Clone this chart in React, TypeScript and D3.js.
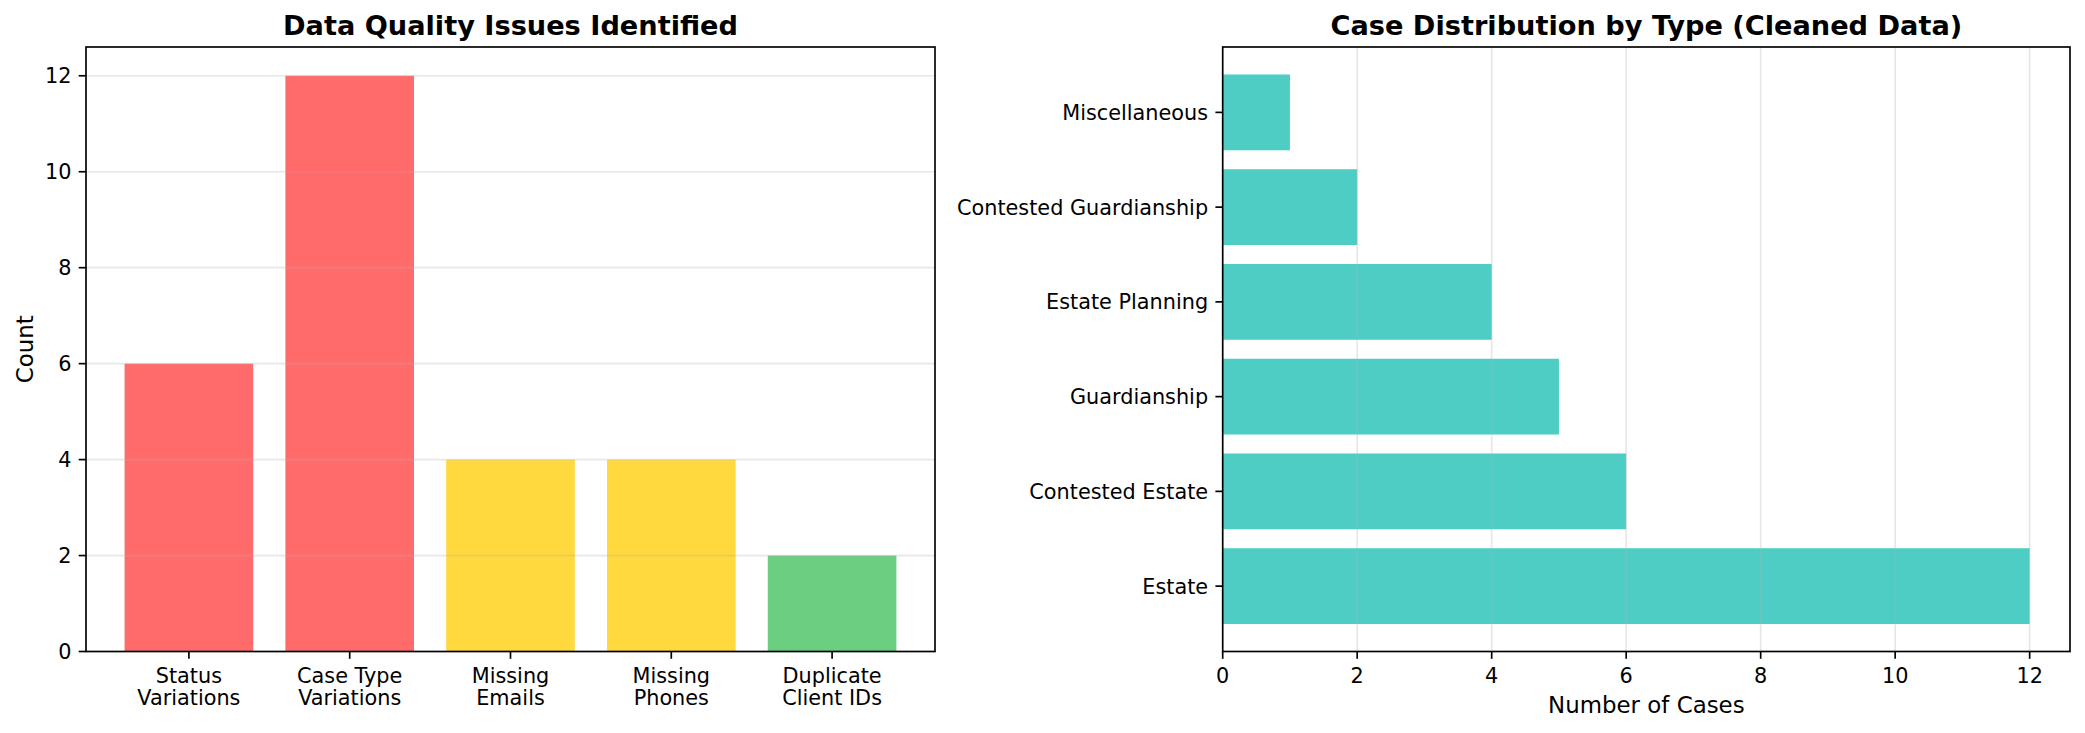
import * as React from "react";
import * as d3 from "d3";

// left panel: data quality issues
const issueLabels: string[][] = [
  ["Status", "Variations"],
  ["Case Type", "Variations"],
  ["Missing", "Emails"],
  ["Missing", "Phones"],
  ["Duplicate", "Client IDs"]
];
const issueCounts: number[] = [6, 12, 4, 4, 2];
const issueColors: string[] = ["#FF6B6B", "#FF6B6B", "#FFD93D", "#FFD93D", "#6BCF7F"];
const countTicks: number[] = [0, 2, 4, 6, 8, 10, 12];

// right panel: cases by type (bottom to top)
const caseTypes: string[] = [
  "Estate",
  "Contested Estate",
  "Guardianship",
  "Estate Planning",
  "Contested Guardianship",
  "Miscellaneous"
];
const caseCounts: number[] = [12, 6, 5, 4, 2, 1];
const caseTicks: number[] = [0, 2, 4, 6, 8, 10, 12];
const caseColor = "#4ECDC4";

const WIDTH = 2085;
const HEIGHT = 733;
const TOP = 47;
const BOTTOM = 651.5;
const FONT = "DejaVu Sans, sans-serif";
const TICK_FS = 20.8;
const LABEL_FS = 22.9;
const TITLE_FS = 27.2;
const LW = 1.67;
const TICK_LEN = 7.3;
const GRID = "#b0b0b0";

export default function App(): JSX.Element {
  // left axes
  const lx0 = 86;
  const lx1 = 935;
  const n = issueCounts.length;
  const xLeft = d3.scaleLinear().domain([-0.64, n - 1 + 0.64]).range([lx0, lx1]);
  const yMax = d3.max(issueCounts) as number;
  const yLeft = d3.scaleLinear().domain([0, yMax * 1.05]).range([BOTTOM, TOP]);

  // right axes
  const rx0 = 1222.7;
  const rx1 = 2070;
  const m = caseCounts.length;
  const xMax = d3.max(caseCounts) as number;
  const xRight = d3.scaleLinear().domain([0, xMax * 1.05]).range([rx0, rx1]);
  const yRight = d3.scaleLinear().domain([-0.69, m - 1 + 0.69]).range([BOTTOM, TOP]);

  const barW = xLeft(0.4) - xLeft(-0.4);
  const barH = yRight(-0.4) - yRight(0.4);

  return (
    <div>
      <style>{`body{margin:0;}`}</style>
      <svg width={WIDTH} height={HEIGHT} style={{ display: "block", background: "#fff" }} fontFamily={FONT}>
        {/* ---------- left panel ---------- */}
        <g>
          {issueCounts.map((v, i) => (
            <rect key={i} x={xLeft(i - 0.4)} y={yLeft(v)} width={barW} height={yLeft(0) - yLeft(v)}
              fill={issueColors[i]} />
          ))}
          {countTicks.map((t) => (
            <line key={t} x1={lx0} x2={lx1} y1={yLeft(t)} y2={yLeft(t)} stroke={GRID}
              strokeOpacity={0.3} strokeWidth={LW} />
          ))}
          <rect x={lx0} y={TOP} width={lx1 - lx0} height={BOTTOM - TOP} fill="none" stroke="#000"
            strokeWidth={LW} />
          {countTicks.map((t) => (
            <g key={t}>
              <line x1={lx0 - TICK_LEN} x2={lx0} y1={yLeft(t)} y2={yLeft(t)} stroke="#000" strokeWidth={LW} />
              <text x={lx0 - TICK_LEN - 7.3} y={yLeft(t)} dy="0.36em" textAnchor="end" fontSize={TICK_FS}>
                {t}
              </text>
            </g>
          ))}
          {issueLabels.map((lines, i) => (
            <g key={i}>
              <line x1={xLeft(i)} x2={xLeft(i)} y1={BOTTOM} y2={BOTTOM + TICK_LEN} stroke="#000" strokeWidth={LW} />
              {lines.map((s, j) => (
                <text key={j} x={xLeft(i)} y={683.3 + j * 22} textAnchor="middle" fontSize={TICK_FS}>
                  {s}
                </text>
              ))}
            </g>
          ))}
          <text transform={`translate(33, ${(TOP + BOTTOM) / 2}) rotate(-90)`} textAnchor="middle"
            fontSize={LABEL_FS}>Count</text>
          <text x={(lx0 + lx1) / 2} y={34.5} textAnchor="middle" fontSize={TITLE_FS} fontWeight="bold">
            Data Quality Issues Identified
          </text>
        </g>

        {/* ---------- right panel ---------- */}
        <g>
          {caseCounts.map((v, i) => (
            <rect key={i} x={xRight(0)} y={yRight(i + 0.4)} width={xRight(v) - xRight(0)} height={barH}
              fill={caseColor} />
          ))}
          {caseTicks.map((t) => (
            <line key={t} x1={xRight(t)} x2={xRight(t)} y1={TOP} y2={BOTTOM} stroke={GRID}
              strokeOpacity={0.3} strokeWidth={LW} />
          ))}
          <rect x={rx0} y={TOP} width={rx1 - rx0} height={BOTTOM - TOP} fill="none" stroke="#000"
            strokeWidth={LW} />
          {caseTicks.map((t) => (
            <g key={t}>
              <line x1={xRight(t)} x2={xRight(t)} y1={BOTTOM} y2={BOTTOM + TICK_LEN} stroke="#000" strokeWidth={LW} />
              <text x={xRight(t)} y={683} textAnchor="middle" fontSize={TICK_FS}>{t}</text>
            </g>
          ))}
          {caseTypes.map((c, i) => (
            <g key={c}>
              <line x1={rx0 - TICK_LEN} x2={rx0} y1={yRight(i)} y2={yRight(i)} stroke="#000" strokeWidth={LW} />
              <text x={rx0 - TICK_LEN - 7.3} y={yRight(i)} dy="0.36em" textAnchor="end" fontSize={TICK_FS}>
                {c}
              </text>
            </g>
          ))}
          <text x={(rx0 + rx1) / 2} y={713} textAnchor="middle" fontSize={LABEL_FS}>Number of Cases</text>
          <text x={(rx0 + rx1) / 2} y={34.5} textAnchor="middle" fontSize={TITLE_FS} fontWeight="bold">
            Case Distribution by Type (Cleaned Data)
          </text>
        </g>
      </svg>
    </div>
  );
}
